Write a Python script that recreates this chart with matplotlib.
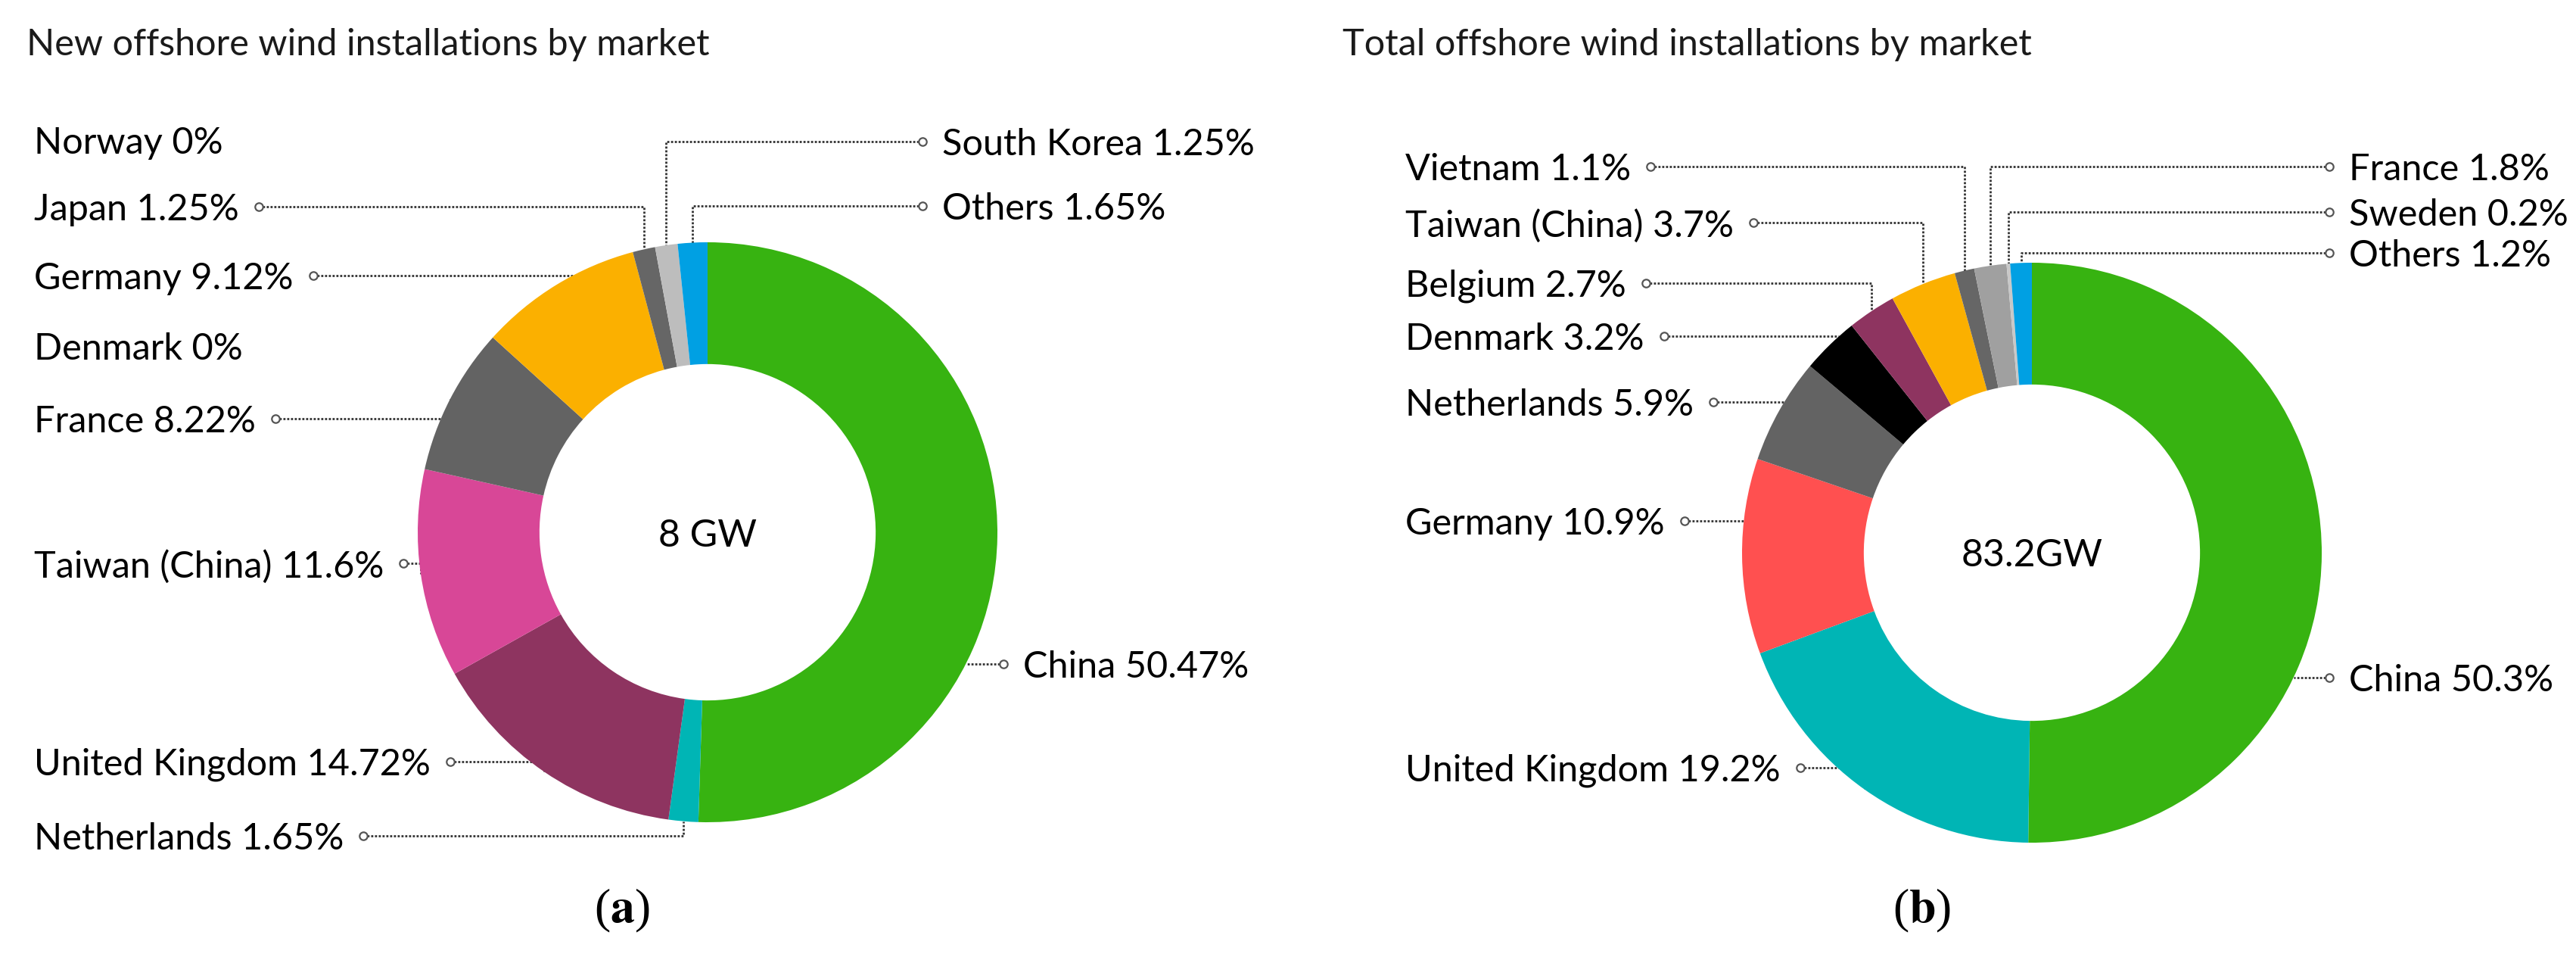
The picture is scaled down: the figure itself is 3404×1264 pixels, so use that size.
import numpy as np
import matplotlib.pyplot as plt

plt.rcParams['font.family'] = ['Lato', 'DejaVu Sans']
plt.rcParams['mathtext.fontset'] = 'stix'

W, H = 3404, 1264

# (a) new offshore wind installations by market, clockwise from 12 o'clock
new_markets = ["China", "Netherlands", "United Kingdom", "Taiwan (China)", "France",
               "Denmark", "Germany", "Japan", "Norway", "South Korea", "Others"]
new_share = [50.47, 1.65, 14.72, 11.6, 8.22, 0, 9.12, 1.25, 0, 1.25, 1.65]
new_colors = ["#37b311", "#00b5b5", "#8e3460", "#d84797", "#636363", "#000000",
              "#fbb000", "#666666", "#cccccc", "#bdbdbd", "#00a0e3"]
new_center = "8 GW"

# (b) total offshore wind installations by market
total_markets = ["China", "United Kingdom", "Germany", "Netherlands", "Denmark", "Belgium",
                 "Taiwan (China)", "Vietnam", "France", "Sweden", "Others"]
total_share = [50.3, 19.2, 10.9, 5.9, 3.2, 2.7, 3.7, 1.1, 1.8, 0.2, 1.2]
total_colors = ["#37b311", "#00b5b5", "#ff5050", "#636363", "#000000", "#8e3460",
                "#fbb000", "#666666", "#a0a0a0", "#c8c8c8", "#00a0e3"]
total_center = "83.2GW"

# label placement, pixels from the top-left corner
new_label_x = [1352, 45, 45, 45, 45, 45, 45, 45, 45, 1245, 1245]
new_label_y = [877, 1104, 1006, 744, 553, 457, 364, 273, 185, 187, 272]
total_label_x = [3104, 1857, 1857, 1857, 1857, 1857, 1857, 1857, 3104, 3104, 3104]
total_label_y = [895, 1014, 688, 531, 444, 374, 294, 220, 220, 280, 334]

R = 383
HOLE = 0.58
GAP = 26


def reset_view(ax):
    ax.set_xlim(0, W)
    ax.set_ylim(0, H)
    ax.set_aspect('auto')
    ax.axis('off')


def draw_donut(ax, cx, cy, names, shares, colors, center_text, label_x, label_y):
    cy = H - cy
    ax.pie(shares, colors=colors, startangle=90, counterclock=False, radius=R,
           center=(cx, cy), wedgeprops=dict(width=R * (1 - HOLE), linewidth=0))
    reset_view(ax)
    ax.text(cx, cy, center_text, ha='center', va='center_baseline', fontsize=36)

    frac = np.cumsum([0] + list(shares)) / sum(shares)
    renderer = ax.figure.canvas.get_renderer()
    for i, name in enumerate(names):
        x0, y = label_x[i], H - label_y[i]
        left = x0 < cx
        t = ax.text(x0, y, f"{name} {shares[i]:g}%", ha='left',
                    va='center_baseline', fontsize=35)
        if shares[i] == 0:
            continue
        ext = t.get_window_extent(renderer)
        x_end = ax.transData.inverted().transform((ext.x1, ext.y0))[0]
        mx = x_end + GAP if left else x0 - GAP

        # leader line: to the middle of the wedge, or straight to the rim
        th0, th1 = 2 * np.pi * frac[i], 2 * np.pi * frac[i + 1]
        tm = (th0 + th1) / 2
        px, py = cx + R * np.sin(tm), cy + R * np.cos(tm)
        arc_y = cy + R * np.cos(np.linspace(th0, th1, 100))
        outside = np.hypot(px - cx, y - cy) > R
        if outside and arc_y.min() <= y <= arc_y.max():
            ex = cx + (-1 if left else 1) * np.sqrt(R ** 2 - (y - cy) ** 2)
            xs, ys = [mx, ex], [y, y]
        else:
            xs, ys = [mx, px, px], [y, y, py]
        ax.plot(xs, ys, color='#333333', lw=2.0, ls=(0, (1, 0.8)), zorder=0.5)
        ax.plot(mx, y, 'o', ms=7.5, mfc='white', mec='#555555', mew=1.6, zorder=3)


fig = plt.figure(figsize=(W / 100, H / 100), dpi=100)
ax = fig.add_axes([0, 0, 1, 1])

draw_donut(ax, 935, 703, new_markets, new_share, new_colors, new_center,
           new_label_x, new_label_y)
draw_donut(ax, 2685, 730, total_markets, total_share, total_colors, total_center,
           total_label_x, total_label_y)
reset_view(ax)

ax.text(35, H - 73, "New offshore wind installations by market", fontsize=35,
        color='#1a1a1a', va='baseline')
ax.text(1774, H - 73, "Total offshore wind installations by market", fontsize=35,
        color='#1a1a1a', va='baseline')

ax.text(822, H - 1203, r'($\mathbf{a}$)', fontsize=46, ha='center', va='center',
        family='Liberation Serif')
ax.text(2540, H - 1203, r'($\mathbf{b}$)', fontsize=46, ha='center', va='center',
        family='Liberation Serif')

fig.savefig('out.png', dpi=100, facecolor='white')
